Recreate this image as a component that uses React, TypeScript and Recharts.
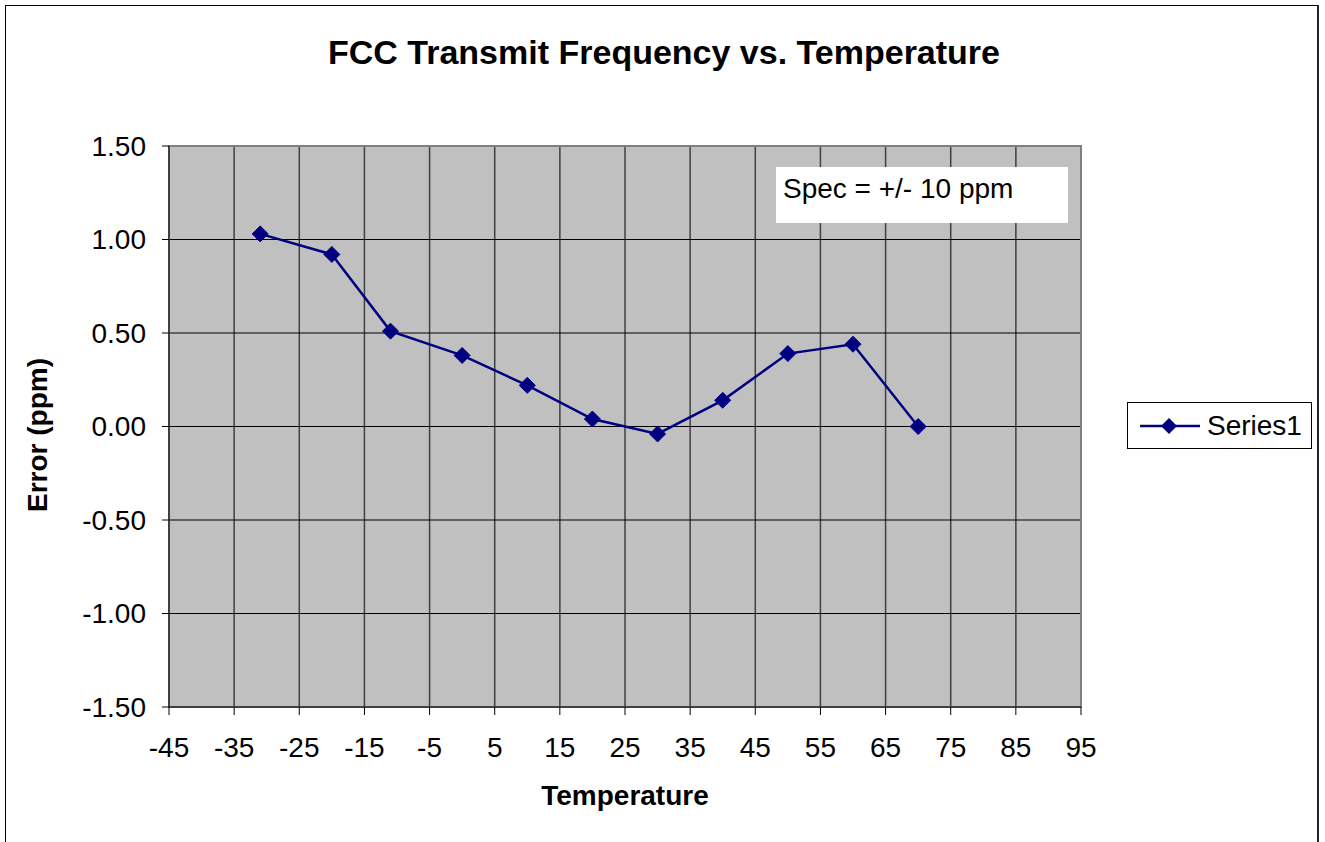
import React from "react";
import {
  LineChart,
  Line,
  XAxis,
  YAxis,
  CartesianGrid,
  ReferenceArea,
} from "recharts";

const temperatures = [-31, -20, -11, 0, 10, 20, 30, 40, 50, 60, 70];
const errorPpm = [1.03, 0.92, 0.51, 0.38, 0.22, 0.04, -0.04, 0.14, 0.39, 0.44, 0.0];
const xTicks = [-45, -35, -25, -15, -5, 5, 15, 25, 35, 45, 55, 65, 75, 85, 95];
const yTicks = [-1.5, -1.0, -0.5, 0, 0.5, 1.0, 1.5];

const FONT = "'Liberation Sans', Arial, sans-serif";
const NAVY = "#000080";

const data = temperatures.map((t, i) => ({ temp: t, error: errorPpm[i] }));

function Diamond(props: any) {
  const { cx, cy } = props;
  if (cx == null || cy == null) return null;
  const r = 8;
  return (
    <path
      d={`M${cx},${cy - r} L${cx + r},${cy} L${cx},${cy + r} L${cx - r},${cy} Z`}
      fill={NAVY}
      stroke={NAVY}
      strokeWidth={1}
    />
  );
}

export default function App() {
  return (
    <div
      style={{
        position: "absolute",
        left: 0,
        top: 0,
        width: 1325,
        height: 842,
        background: "#fff",
        fontFamily: FONT,
        overflow: "hidden",
      }}
    >
      {/* outer chart frame, bottom edge runs off the picture */}
      <div
        style={{
          position: "absolute",
          left: 5,
          top: 5,
          width: 1314,
          height: 860,
          borderLeft: "1px solid #000",
          borderTop: "1px solid #000",
          borderRight: "2px solid #222",
          boxSizing: "border-box",
        }}
      />
      <div
        style={{
          position: "absolute",
          left: 0,
          width: 1325 - 0,
          top: 32,
          textAlign: "center",
          paddingRight: 0,
          fontWeight: "bold",
          fontSize: 34,
          lineHeight: "40px",
        }}
      >
        <span style={{ position: "absolute", left: 664, transform: "translateX(-50%)", whiteSpace: "nowrap" }}>
          FCC Transmit Frequency vs. Temperature
        </span>
      </div>

      <div style={{ position: "absolute", left: 0, top: 0 }}>
        <LineChart
          width={1325}
          height={842}
          data={data}
          margin={{ top: 146, right: 244, bottom: 75, left: 89 }}
        >
          <CartesianGrid
            horizontal={false}
            vertical
            stroke="#404040"
            strokeWidth={1.5}
            fill="#c0c0c0"
            fillOpacity={1}
          />
          <CartesianGrid horizontal vertical={false} stroke="#000" strokeWidth={1} />
          <ReferenceArea
            x1={-45}
            x2={95}
            y1={-1.5}
            y2={1.5}
            fill="none"
            stroke="#808080"
            strokeWidth={2}
            ifOverflow="visible"
          />
          <XAxis
            dataKey="temp"
            type="number"
            domain={[-45, 95]}
            ticks={xTicks}
            interval={0}
            height={60}
            tickSize={8}
            tickMargin={22}
            axisLine={{ stroke: "#000", strokeWidth: 1 }}
            tickLine={{ stroke: "#000" }}
            tick={{ fill: "#000", fontSize: 28, fontFamily: FONT }}
          />
          <YAxis
            type="number"
            domain={[-1.5, 1.5]}
            ticks={yTicks}
            interval={0}
            width={80}
            tickSize={7}
            tickMargin={16}
            tickFormatter={(v: number) => v.toFixed(2)}
            axisLine={{ stroke: "#000", strokeWidth: 1 }}
            tickLine={{ stroke: "#000" }}
            tick={{ fill: "#000", fontSize: 28, fontFamily: FONT }}
          />
          <Line
            type="linear"
            dataKey="error"
            stroke={NAVY}
            strokeWidth={2.5}
            dot={<Diamond />}
            activeDot={false}
            isAnimationActive={false}
          />
        </LineChart>
      </div>

      {/* axis titles */}
      <div
        style={{
          position: "absolute",
          left: 625,
          top: 780,
          transform: "translateX(-50%)",
          fontWeight: "bold",
          fontSize: 28,
          lineHeight: "32px",
          whiteSpace: "nowrap",
        }}
      >
        Temperature
      </div>
      <div
        style={{
          position: "absolute",
          left: 38,
          top: 435,
          transform: "translate(-50%, -50%) rotate(-90deg)",
          fontWeight: "bold",
          fontSize: 28,
          lineHeight: "32px",
          whiteSpace: "nowrap",
        }}
      >
        Error (ppm)
      </div>

      {/* spec text box */}
      <div
        style={{
          position: "absolute",
          left: 776,
          top: 167,
          width: 292,
          height: 56,
          background: "#fff",
          boxSizing: "border-box",
          padding: "6px 0 0 7px",
          fontSize: 28,
          lineHeight: "32px",
          whiteSpace: "nowrap",
        }}
      >
        Spec = +/- 10 ppm
      </div>

      {/* legend */}
      <div
        style={{
          position: "absolute",
          left: 1127,
          top: 402,
          width: 185,
          height: 47,
          border: "1px solid #000",
          boxSizing: "border-box",
          background: "#fff",
          display: "flex",
          alignItems: "center",
        }}
      >
        <svg width={80} height={30} style={{ marginLeft: 12, flex: "none" }}>
          <line x1={0} y1={15} x2={60} y2={15} stroke={NAVY} strokeWidth={2.5} />
          <path d="M29,7 L37,15 L29,23 L21,15 Z" fill={NAVY} />
        </svg>
        <span style={{ marginLeft: -13, fontSize: 28, lineHeight: "32px", whiteSpace: "nowrap" }}>Series1</span>
      </div>
    </div>
  );
}
